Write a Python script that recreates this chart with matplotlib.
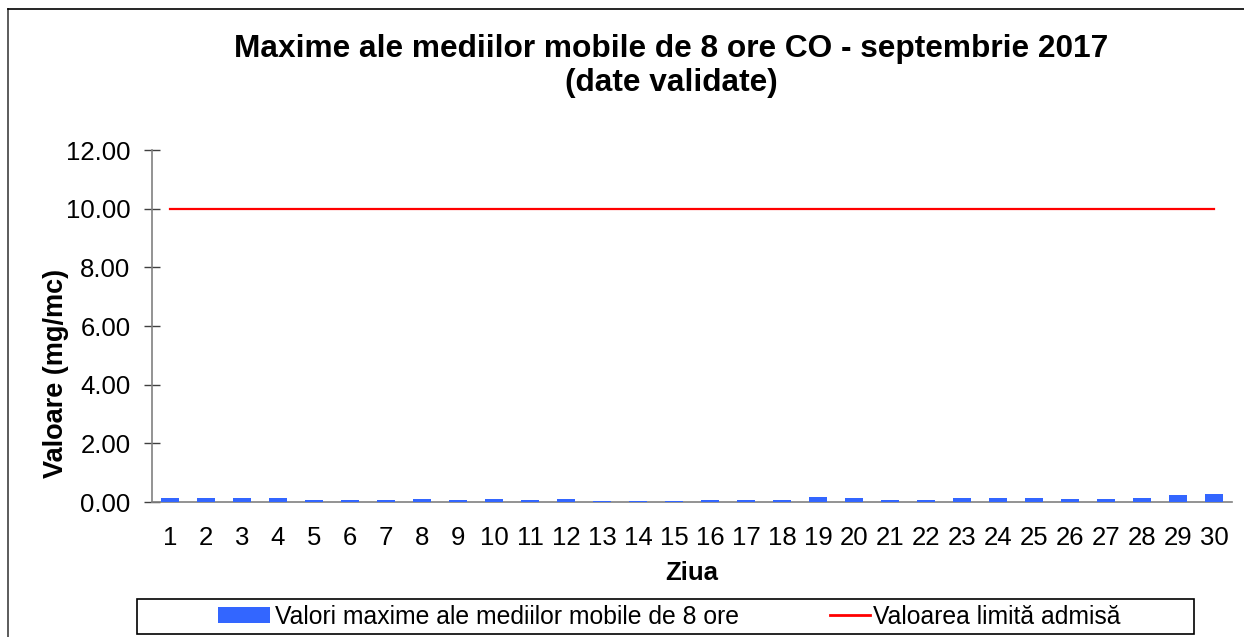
import matplotlib

matplotlib.use("Agg")
import matplotlib.pyplot as plt
from matplotlib.lines import Line2D
from matplotlib.patches import Patch, Rectangle

plt.rcParams["font.family"] = ["Liberation Sans", "DejaVu Sans"]

days = list(range(1, 31))
co_max = [0.14, 0.15, 0.14, 0.13, 0.06, 0.06, 0.06, 0.11, 0.07, 0.11,
          0.07, 0.10, 0.05, 0.05, 0.05, 0.07, 0.07, 0.07, 0.16, 0.13,
          0.06, 0.06, 0.14, 0.14, 0.14, 0.10, 0.10, 0.14, 0.25, 0.27]
limit_value = 10.0
y_ticks = [0, 2, 4, 6, 8, 10, 12]

W, H = 1244, 637
fig = plt.figure(figsize=(W / 100, H / 100), dpi=100)
ax = fig.add_axes([152 / W, 1 - 502 / H, 1080 / W, 352 / H])

bar_color = "#3366ff"
line_color = "#ff0000"

ax.bar(days, co_max, width=0.48, color=bar_color, zorder=3)
ax.plot(days, [limit_value] * len(days), color=line_color, linewidth=1.6, zorder=4)

ax.set_xlim(0.5, 30.5)
ax.set_ylim(0, 12)
ax.set_yticks(y_ticks)
ax.set_yticklabels([f"{v:.2f}" for v in y_ticks])
ax.set_xticks(days)
ax.set_xticklabels([str(d) for d in days])

for side in ("top", "right"):
    ax.spines[side].set_visible(False)
for side in ("left", "bottom"):
    ax.spines[side].set_color("#808080")
    ax.spines[side].set_linewidth(1.2)

ax.tick_params(axis="y", direction="inout", length=11, width=1, color="#404040",
               labelsize=18.5, pad=10)
ax.tick_params(axis="x", length=0, labelsize=18.5, pad=17)

ax.set_ylabel("Valoare (mg/mc)", fontsize=19.5, fontweight="bold", labelpad=0)
ax.yaxis.set_label_coords(-0.077, 0.366)
ax.set_xlabel("Ziua", fontsize=18.5, fontweight="bold", labelpad=8)

fig.text(671 / W, 1 - 66 / H,
         "Maxime ale mediilor mobile de 8 ore CO - septembrie 2017\n(date validate)",
         ha="center", va="center", fontsize=22.8, fontweight="bold", linespacing=1.2)

# outer chart border (left and top only visible)
fig.add_artist(Line2D([8 / W, 8 / W], [0, 1 - 9 / H], transform=fig.transFigure,
                      color="#404040", linewidth=1.2))
fig.add_artist(Line2D([8 / W, 1], [1 - 9 / H, 1 - 9 / H], transform=fig.transFigure,
                      color="black", linewidth=1.2))

# legend: two single-entry legends inside one framed box
leg_y = 1 - 617 / H
fig.legend([Patch(facecolor=bar_color, edgecolor="none")],
           ["Valori maxime ale mediilor mobile de 8 ore"],
           frameon=False, loc="center left", bbox_to_anchor=(218 / W, leg_y),
           fontsize=17.8, borderpad=0, borderaxespad=0,
           handlelength=2.1, handleheight=0.6, handletextpad=0.2)
fig.legend([Line2D([], [], color=line_color, linewidth=2)],
           ["Valoarea limită admisă"],
           frameon=False, loc="center left", bbox_to_anchor=(830 / W, leg_y),
           fontsize=17.8, borderpad=0, borderaxespad=0,
           handlelength=1.62, handletextpad=0.12)
fig.add_artist(Rectangle((137 / W, 1 - 634 / H), (1194 - 137) / W, 35 / H,
                         transform=fig.transFigure, fill=False,
                         edgecolor="black", linewidth=1.2))

fig.savefig("out.png", dpi=100)
